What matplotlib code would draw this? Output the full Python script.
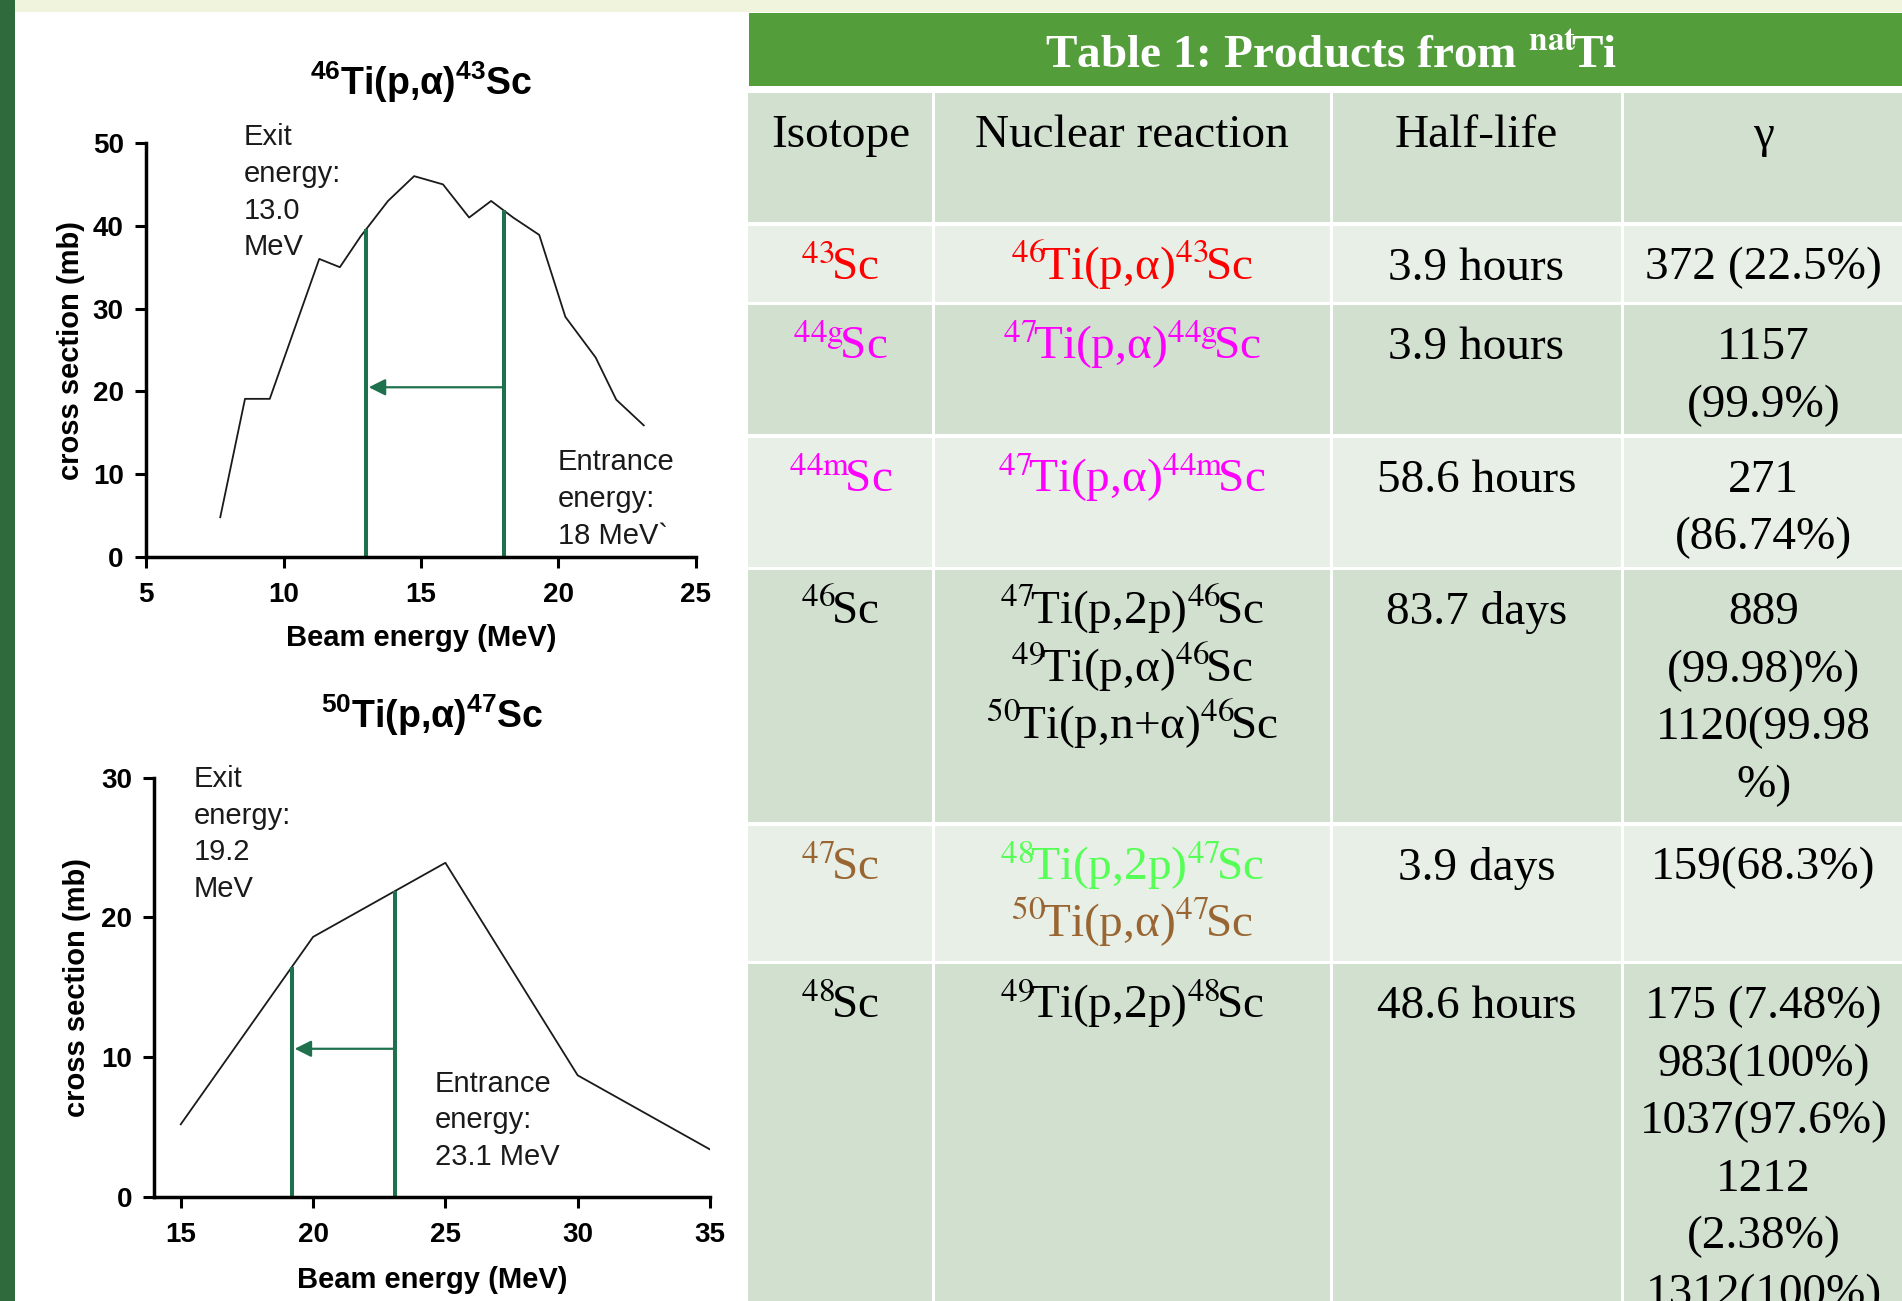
import matplotlib
matplotlib.use("Agg")
import matplotlib.pyplot as plt
import numpy as np
from matplotlib.patches import Rectangle

plt.rcParams["mathtext.fontset"] = "custom"
plt.rcParams["mathtext.rm"] = "Liberation Sans"
plt.rcParams["mathtext.bf"] = "Liberation Sans:bold"
plt.rcParams["mathtext.it"] = "Liberation Sans:italic"
plt.rcParams["font.family"] = ["Liberation Sans", "DejaVu Sans"]

# ---------------- excitation functions ----------------
ti46_energy = [7.7, 8.6, 9.5, 11.3, 12.05, 12.8, 13.8, 14.75, 15.8, 16.75,
               17.55, 18.35, 19.3, 20.25, 21.35, 22.1, 23.1]
ti46_xs = [4.8, 19.1, 19.1, 36.0, 35.0, 38.7, 43.0, 46.0, 45.0, 41.0,
           43.0, 41.0, 38.9, 29.0, 24.1, 19.0, 15.9]
ti46_exit, ti46_entrance = 13.0, 18.0

ti50_energy = [15, 20, 25, 30, 35]
ti50_xs = [5.2, 18.6, 23.9, 8.7, 3.4]
ti50_exit, ti50_entrance = 19.2, 23.1

# ---------------- table contents ----------------
table_title = r"Table 1: Products from $\mathbf{{}^{nat}}\!$Ti"
header = ["Isotope", "Nuclear reaction", "Half-life", "\u03b3"]
isotopes = [r"${}^{43}\!$Sc", r"${}^{44\mathrm{g}}\!$Sc", r"${}^{44\mathrm{m}}\!$Sc",
            r"${}^{46}\!$Sc", r"${}^{47}\!$Sc", r"${}^{48}\!$Sc"]
reactions = [
    [r"${}^{46}\!$Ti(p,α)${}^{43}\!$Sc"],
    [r"${}^{47}\!$Ti(p,α)${}^{44\mathrm{g}}\!$Sc"],
    [r"${}^{47}\!$Ti(p,α)${}^{44\mathrm{m}}\!$Sc"],
    [r"${}^{47}\!$Ti(p,2p)${}^{46}\!$Sc", r"${}^{49}\!$Ti(p,α)${}^{46}\!$Sc",
     r"${}^{50}\!$Ti(p,n+α)${}^{46}\!$Sc"],
    [r"${}^{48}\!$Ti(p,2p)${}^{47}\!$Sc", r"${}^{50}\!$Ti(p,α)${}^{47}\!$Sc"],
    [r"${}^{49}\!$Ti(p,2p)${}^{48}\!$Sc"],
]
half_lives = ["3.9 hours", "3.9 hours", "58.6 hours", "83.7 days", "3.9 days", "48.6 hours"]
gammas = [
    ["372 (22.5%)"],
    ["1157", "(99.9%)"],
    ["271", "(86.74%)"],
    ["889", "(99.98)%)", "1120(99.98", "%)"],
    ["159(68.3%)"],
    ["175 (7.48%)", "983(100%)", "1037(97.6%)", "1212", "(2.38%)", "1312(100%)"],
]

RED, MAG, BROWN, LGREEN = "#ff0000", "#ff00ff", "#996633", "#55ff55"
isotope_colors = [RED, MAG, MAG, "black", BROWN, "black"]
reaction_colors = [[RED], [MAG], [MAG], ["black"] * 3, [LGREEN, BROWN], ["black"]]

# ---------------- figure ----------------
W, H = 1902, 1301
fig = plt.figure(figsize=(W / 100, H / 100), dpi=100, facecolor="white")

bg = fig.add_axes([0, 0, 1, 1])
bg.set_xlim(0, W)
bg.set_ylim(H, 0)
bg.axis("off")

# slide frame
bg.add_patch(Rectangle((0, 0), 15, H, color="#2e6a3b", lw=0))
bg.add_patch(Rectangle((15, 0), W - 15, 11.5, color="#f1f4dc", lw=0))

# table
col_edges = [748, 933, 1331, 1622, 1905]
row_heights = [129, 76, 129, 129, 252, 135, 420]
gap = 3.5
top0 = 93
dark, light = "#d2e0d0", "#e8efe6"

bg.add_patch(Rectangle((749, 13), W - 749, 73, color="#539d3b", lw=0))
bg.text((749 + W) / 2 + 5, 68, table_title, ha="center", va="baseline",
        fontsize=34, fontweight="bold", color="white",
        family="Liberation Serif", math_fontfamily="stix")

row_tops = []
y = top0
for h in row_heights:
    row_tops.append(y)
    y += h + gap

line_step = 57.6
base_off = 54


def cell_text(col, row, lines, colors):
    xc = (col_edges[col] + col_edges[col + 1]) / 2
    for i, (s, c) in enumerate(zip(lines, colors)):
        bg.text(xc, row_tops[row] + base_off + i * line_step, s, ha="center",
                va="baseline", fontsize=34, color=c, family="Liberation Serif",
                math_fontfamily="stix")


for r, (top, h) in enumerate(zip(row_tops, row_heights)):
    face = dark if r % 2 == 0 else light
    for c in range(4):
        x0 = col_edges[c] + (1.5 if c > 0 else 0)
        x1 = col_edges[c + 1] - 1.5
        bg.add_patch(Rectangle((x0, top), x1 - x0, h, color=face, lw=0))

for c, s in enumerate(header):
    cell_text(c, 0, [s], ["black"])
for i in range(len(isotopes)):
    r = i + 1
    cell_text(0, r, [isotopes[i]], [isotope_colors[i]])
    cell_text(1, r, reactions[i], reaction_colors[i])
    cell_text(2, r, [half_lives[i]], ["black"])
    cell_text(3, r, gammas[i], ["black"] * len(gammas[i]))

# ---------------- charts ----------------
GREEN = "#1f714d"


def style_axes(ax):
    ax.set_facecolor("none")
    for s in ("top", "right"):
        ax.spines[s].set_visible(False)
    for s in ("left", "bottom"):
        ax.spines[s].set_linewidth(2.5)
    ax.tick_params(axis="both", direction="out", length=8, width=2.2,
                   labelsize=20)
    ax.tick_params(axis="x", pad=10)
    ax.tick_params(axis="y", pad=8)
    for lab in ax.get_xticklabels() + ax.get_yticklabels():
        lab.set_fontweight("bold")


def draw_window(ax, energy, xs, e_exit, e_entr, y_arrow):
    for e in (e_exit, e_entr):
        ax.plot([e, e], [0, np.interp(e, energy, xs)], color=GREEN, lw=2.9,
                solid_capstyle="butt")
    ax.annotate("", xy=(e_exit, y_arrow), xytext=(e_entr, y_arrow),
                arrowprops=dict(arrowstyle="-|>,head_length=0.5,head_width=0.25",
                                color=GREEN, lw=1.6, mutation_scale=20,
                                shrinkA=0, shrinkB=2))


ann_kw = dict(fontsize=21, color="#1a1a1a", ha="left", va="center", linespacing=1.39)

# 46Ti(p,a)43Sc
ax1 = fig.add_axes([146 / W, 1 - 557 / H, 550 / W, 414 / H])
ax1.plot(ti46_energy, ti46_xs, color="#1a1a1a", lw=1.3)
draw_window(ax1, ti46_energy, ti46_xs, ti46_exit, ti46_entrance, 20.5)
ax1.set_xlim(5, 25)
ax1.set_ylim(0, 50)
ax1.set_xticks([5, 10, 15, 20, 25])
ax1.set_yticks([0, 10, 20, 30, 40, 50])
style_axes(ax1)
ax1.set_title(r"$\mathbf{{}^{46}}$Ti(p,α)$\mathbf{{}^{43}}$Sc", fontsize=27,
              fontweight="bold", y=1.116, pad=0)
ax1.set_xlabel("Beam energy (MeV)", fontsize=21, fontweight="bold")
ax1.set_ylabel("cross section (mb)", fontsize=21, fontweight="bold")
ax1.xaxis.set_label_coords(0.5, -0.162)
ax1.yaxis.set_label_coords(-0.111, 0.5)
ax1.text(8.56, 44.05, f"Exit\nenergy:\n{ti46_exit:.1f}\nMeV", **ann_kw)
ax1.text(19.98, 7.0, f"Entrance\nenergy:\n{ti46_entrance:.0f} MeV`", **ann_kw)

# 50Ti(p,a)47Sc
ax2 = fig.add_axes([154.3 / W, 1 - 1197 / H, 555.7 / W, 419.5 / H])
ax2.plot(ti50_energy, ti50_xs, color="#1a1a1a", lw=1.3)
draw_window(ax2, ti50_energy, ti50_xs, ti50_exit, ti50_entrance, 10.6)
ax2.set_xlim(14, 35)
ax2.set_ylim(0, 30)
ax2.set_xticks([15, 20, 25, 30, 35])
ax2.set_yticks([0, 10, 20, 30])
style_axes(ax2)
ax2.set_title(r"$\mathbf{{}^{50}}$Ti(p,α)$\mathbf{{}^{47}}$Sc", fontsize=27,
              fontweight="bold", y=1.119, pad=0)
ax2.set_xlabel("Beam energy (MeV)", fontsize=21, fontweight="bold")
ax2.set_ylabel("cross section (mb)", fontsize=21, fontweight="bold")
ax2.xaxis.set_label_coords(0.5, -0.165)
ax2.yaxis.set_label_coords(-0.114, 0.5)
ax2.text(15.5, 25.95, f"Exit\nenergy:\n{ti50_exit:.1f}\nMeV", **ann_kw)
ax2.text(24.6, 5.5, f"Entrance\nenergy:\n{ti50_entrance:.1f} MeV", **ann_kw)

fig.savefig("out.png", dpi=100, facecolor="white")
